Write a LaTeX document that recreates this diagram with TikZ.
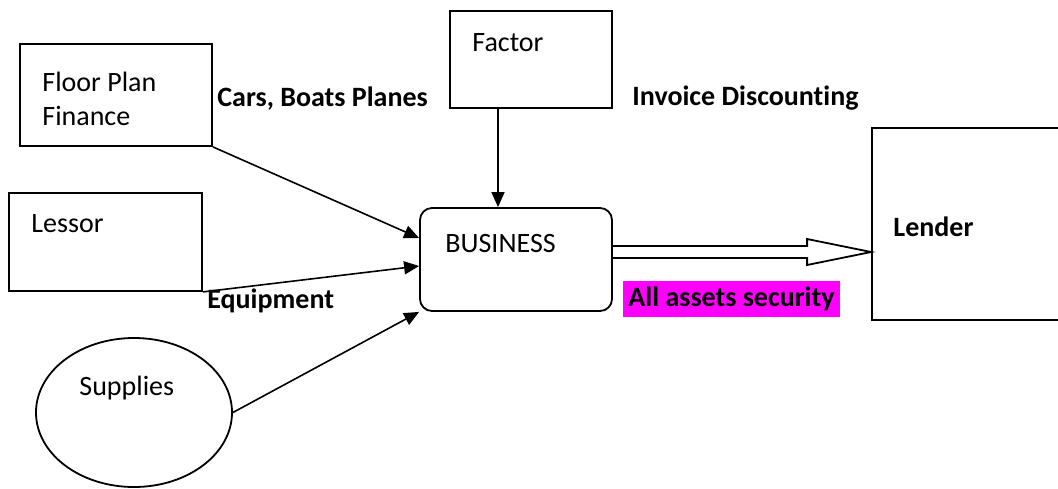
\documentclass[tikz,border=0pt]{standalone}
\usepackage{fontspec}
\setmainfont{Carlito}[Ligatures=NoCommon]
\usepackage{tikz}
\usetikzlibrary{shapes.geometric, arrows.meta, calc}
\definecolor{assetmark}{RGB}{255,0,255}
\newcommand{\diagramfont}{\fontsize{14}{17}\selectfont}
\tikzstyle{party} = [rectangle, draw=black, line width=0.9pt, inner sep=0pt]
\tikzstyle{business} = [rectangle, rounded corners=6pt, draw=black, line width=0.9pt,
    inner sep=0pt, minimum width=96pt, minimum height=51.5pt]
\tikzstyle{supplier} = [ellipse, draw=black, line width=0.9pt, inner sep=0pt,
    minimum width=98pt, minimum height=74.5pt]
\tikzstyle{entity} = [anchor=base west, inner sep=0pt, font=\diagramfont]
\tikzstyle{flowlabel} = [anchor=base west, inner sep=0pt, font=\diagramfont\bfseries]
\tikzstyle{highlight} = [fill=assetmark, inner sep=0pt, minimum width=108.5pt,
    minimum height=18pt, font=\diagramfont\bfseries]
\tikzstyle{arrow} = [line width=0.8pt, -{Triangle[length=7.5pt, width=6.5pt]}]
\tikzstyle{bigarrow} = [line width=0.9pt, draw=black]

\begin{document}
\begin{tikzpicture}[x=0.5pt, y=-0.5pt]
                \useasboundingbox (0,0) rectangle (1058,488);
                \node (floorplan) [party, minimum width=96pt, minimum height=51pt] at (116,95) {};
                \node (factor) [party, minimum width=81pt, minimum height=48.5pt] at (531,59.5) {};
                \node (lessor) [party, minimum width=96.5pt, minimum height=49pt] at (105.5,242) {};
                \node (supplies) [supplier] at (134,412.5) {};
                \node (business) [business] at (516,259.5) {};
                \node (lender) [party, minimum width=104pt, minimum height=96pt] at (976,224) {};
                \node (floorplantext) [entity, anchor=north west, align=left] at (42,72) {Floor Plan\\Finance};
                \node (factortext) [entity] at (472,51) {Factor};
                \node (lessortext) [entity] at (31,232) {Lessor};
                \node (suppliestext) [entity] at (79,395) {Supplies};
                \node (businesstext) [entity] at (445,252) {BUSINESS};
                \node (lendertext) [flowlabel] at (893,236) {Lender};
                \node (carslabel) [flowlabel] at (217,106) {Cars, Boats Planes};
                \node (invoicelabel) [flowlabel] at (632,105) {Invoice Discounting};
                \node (equipmentlabel) [flowlabel] at (207,308) {Equipment};
                \node (securitylabel) [highlight] at (731.5,299) {All assets security};
                \draw [arrow] (floorplan.south east) -- ($(business.west)+(0,-21.5)$);
                \draw [arrow] (lessor.south east) -- ($(business.west)+(0,6.5)$);
                \draw [arrow] (supplies.east) -- (business.south west);
                \coordinate (factorout) at ($(factor.south)+(-33,0)$);
                \draw [arrow] (factorout) -- (factorout |- business.north);
                \coordinate (securestart) at ($(business.east)+(0,-7.5)$);
                \coordinate (securetip) at (securestart -| lender.west);
                \draw [bigarrow] ($(securestart)+(0,-6)$) -- ($(securetip)+(-64,-6)$) -- ($(securetip)+(-64,-13)$)
                    -- (securetip) -- ($(securetip)+(-64,13)$) -- ($(securetip)+(-64,6)$) -- ($(securestart)+(0,6)$);
\end{tikzpicture}
\end{document}
